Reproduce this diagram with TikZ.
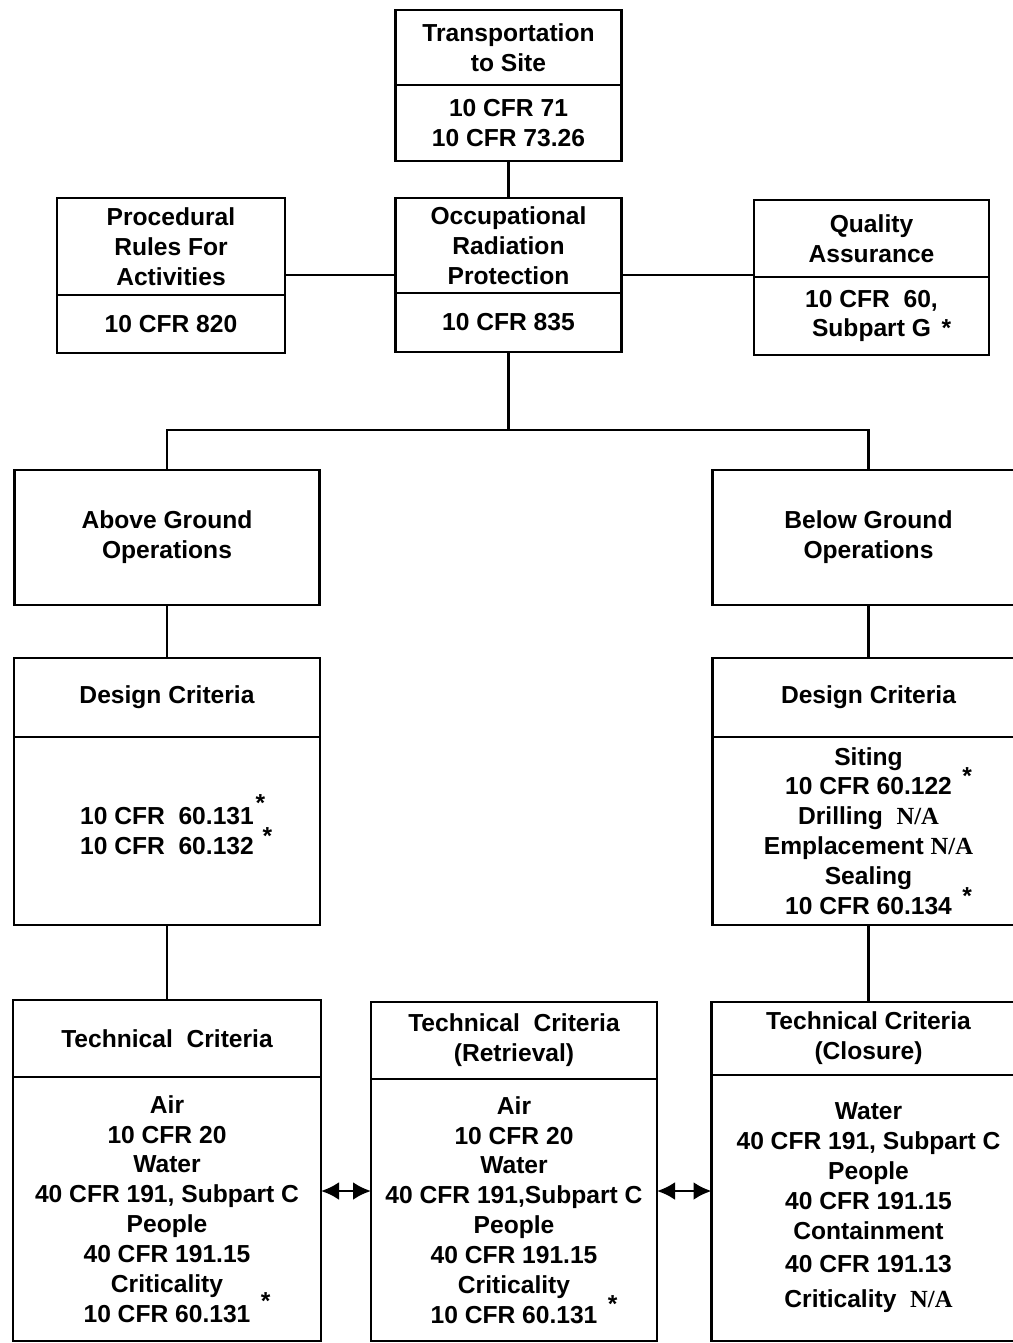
\documentclass[tikz,border=0pt]{standalone}
\usepackage{fontspec}
\setmainfont{Liberation Sans}
\newfontfamily\nafont{Liberation Serif}
\usetikzlibrary{arrows, arrows.meta, positioning}
\newcommand{\cfrstar}[2]{\rlap{\hspace{#1}\smash{\raisebox{#2}{*}}}}
\newcommand{\na}{{\nafont N/A}}

\begin{document}
\begin{tikzpicture}[auto,>={Latex[length=3.6mm,width=3.6mm]}, font=\fontsize{14}{17}\selectfont\bfseries]
        \tikzstyle{block} = [draw, shape=rectangle, align=center, inner sep=2pt,
        outer sep=0pt, line width=1.6pt]
        \useasboundingbox (0,0) rectangle (20.26,-26.86);
        %Creating Blocks
        \node [block, minimum width=4.52cm, minimum height=1.5cm] at (10.17,-0.95) (trans) {Transportation\\to Site};
        \node [block, minimum width=4.52cm, minimum height=1.52cm, below=0pt of trans] (trans_cfr) {10 CFR 71\\10 CFR 73.26};
        \node [block, minimum width=4.56cm, minimum height=1.94cm] at (3.42,-4.93) (proc) {Procedural\\Rules For\\Activities};
        \node [block, minimum width=4.56cm, minimum height=1.16cm, below=0pt of proc] (proc_cfr) {10 CFR 820};
        \node [block, minimum width=4.52cm, minimum height=1.9cm] at (10.17,-4.91) (occ) {Occupational\\Radiation\\Protection};
        \node [block, minimum width=4.52cm, minimum height=1.18cm, below=0pt of occ] (occ_cfr) {10 CFR 835};
        \node [block, minimum width=4.7cm, minimum height=1.54cm] at (17.43,-4.77) (qa) {Quality\\Assurance};
        \node [block, minimum width=4.7cm, minimum height=1.56cm, below=0pt of qa] (qa_cfr) {10 CFR~~60,\\Subpart G\cfrstar{6pt}{0pt}};
        \node [block, minimum width=6.1cm, minimum height=2.7cm] at (3.34,-10.75) (above) {Above Ground\\Operations};
        \node [block, minimum width=6.24cm, minimum height=2.7cm] at (17.37,-10.75) (below) {Below Ground\\Operations};
        \node [block, minimum width=6.12cm, minimum height=1.58cm] at (3.34,-13.95) (dcl) {Design Criteria};
        \node [block, minimum width=6.12cm, minimum height=3.76cm, below=0pt of dcl] (dcl_cfr) {10 CFR~~60.131\cfrstar{1pt}{1ex}\\10 CFR~~60.132\cfrstar{5pt}{0.8ex}};
        \node [block, minimum width=6.24cm, minimum height=1.58cm] at (17.37,-13.95) (dcr) {Design Criteria};
        \node [block, minimum width=6.24cm, minimum height=3.76cm, below=0pt of dcr] (dcr_cfr) {Siting\\10 CFR 60.122\cfrstar{6pt}{0.8ex}\\Drilling~~\na\\Emplacement \na\\Sealing\\10 CFR 60.134\cfrstar{6pt}{0.8ex}};
        \node [block, minimum width=6.16cm, minimum height=1.54cm] at (3.34,-20.77) (tcl) {Technical~~Criteria};
        \node [block, minimum width=6.16cm, minimum height=5.28cm, below=0pt of tcl] (tcl_cfr) {Air\\10 CFR 20\\Water\\40 CFR 191, Subpart C\\People\\40 CFR 191.15\\Criticality\\10 CFR 60.131\cfrstar{6pt}{1ex}};
        \node [block, minimum width=5.72cm, minimum height=1.54cm] at (10.28,-20.81) (tcr) {Technical~~Criteria\\(Retrieval)};
        \node [block, minimum width=5.72cm, minimum height=5.24cm, below=0pt of tcr] (tcr_cfr) {Air\\10 CFR 20\\Water\\40 CFR 191,Subpart C\\People\\40 CFR 191.15\\Criticality\\10 CFR 60.131\cfrstar{6pt}{0.8ex}};
        \node [block, minimum width=6.28cm, minimum height=1.46cm] at (17.37,-20.77) (tcc) {Technical Criteria\\(Closure)};
        \node [block, minimum width=6.28cm, minimum height=5.32cm, below=0pt of tcc] (tcc_cfr) {Water\\40 CFR 191, Subpart C\\People\\40 CFR 191.15\\Containment\\[2pt]40 CFR 191.13\\[3pt]Criticality~~\na};
        % Connection Nodes
        \coordinate (row) at (0,-5.5);
        \coordinate (split) at (0,-8.6);
        \coordinate (arrrow) at (0,-23.82);
        %Connecting Blocks
        \begin{scope}[line width=1.3pt]
            \draw (trans_cfr) -- (occ);
            \draw (proc.east |- row) -- (occ.west |- row);
            \draw (occ.east |- row) -- (qa.west |- row);
            \draw (occ_cfr.south) -- (occ_cfr.south |- split) -| (above.north);
            \draw (occ_cfr.south |- split) -| (below.north);
            \draw (above) -- (dcl);
            \draw (below) -- (dcr);
            \draw (dcl_cfr) -- (tcl);
            \draw (dcr_cfr) -- (tcc);
        \end{scope}
        \begin{scope}[line width=1.6pt]
            \draw[<->] (tcl_cfr.east |- arrrow) -- (tcr_cfr.west |- arrrow);
            \draw[<->] (tcr_cfr.east |- arrrow) -- (tcc_cfr.west |- arrrow);
        \end{scope}
    \end{tikzpicture}
\end{document}
